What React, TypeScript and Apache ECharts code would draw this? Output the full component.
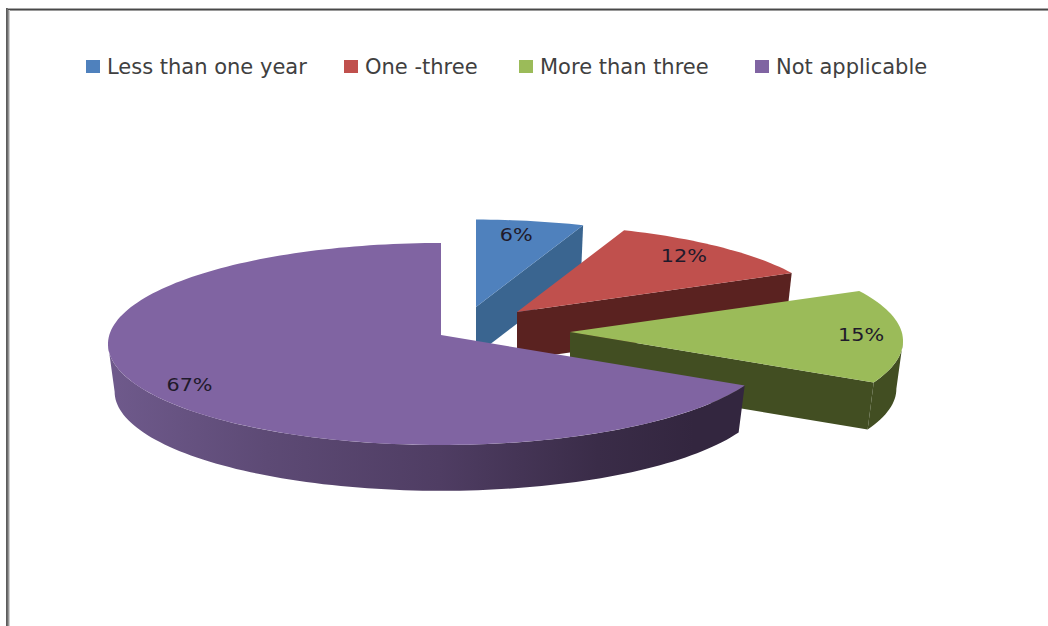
import React, { useEffect, useRef } from "react";
import * as echarts from "echarts";

const categories = ["Less than one year", "One -three", "More than three", "Not applicable"];
const shares = [6, 12, 15, 67];
const shareLabels = ["6%", "12%", "15%", "67%"];

const topColors = ["#4f81bd", "#c0504d", "#9bbb59", "#8064a2"];
const cutColors = ["#3a6590", "#5a2220", "#424e22", "#33263f"];

// Exploded wedge placement: apex of the top face, and its scale on the plane.
const apexX = [476, 517, 570, 441];
const apexY = [307, 312, 332, 335];
const wedgeScale = [0.95, 0.95, 1, 1];
const labelReach = [0.8, 0.84, 0.87, 0.86];
const labelNudgeX = [-4, -5, 2, 4];
const labelNudgeY = [-2, -1, 0, 4];

const legendLeft = [86, 344, 519, 755];

const RADIUS_X = 331.7;
const RADIUS_Y = 100.2;
const TILT = 0.0891;
const DEPTH = 48;
const FLOOR_SCALE = 0.98;

// Bearings where the rim's silhouette meets the wall.
const WALL_START = 95;
const WALL_END = 265;

const total = shares.reduce((a, b) => a + b, 0);

// Perspective projection of a plane point, with bearing in degrees clockwise from 12 o'clock.
function project(i: number, deg: number, reach: number, floor: boolean): number[] {
  const r = (deg * Math.PI) / 180;
  const u = Math.sin(r) * reach;
  const v = Math.cos(r) * reach;
  const w = 1 + TILT * v;
  const s = wedgeScale[i] * (floor ? FLOOR_SCALE : 1);
  return [apexX[i] + (RADIUS_X * s * u) / w, apexY[i] + (floor ? DEPTH : 0) - (RADIUS_Y * s * v) / w];
}

function arc(i: number, from: number, to: number, floor: boolean): number[][] {
  const steps = Math.max(2, Math.ceil(Math.abs(to - from) / 1.5));
  const out: number[][] = [];
  for (let k = 0; k <= steps; k++) out.push(project(i, from + ((to - from) * k) / steps, 1, floor));
  return out;
}

function sliceBounds(i: number): number[] {
  const before = shares.slice(0, i).reduce((a, b) => a + b, 0);
  return [(before / total) * 360, ((before + shares[i]) / total) * 360];
}

function wedge(i: number) {
  const [start, end] = sliceBounds(i);
  const children: any[] = [];
  const apexTop = project(i, 0, 0, false);
  const apexFloor = project(i, 0, 0, true);

  // Cut face along the clockwise edge; only visible when it looks toward the viewer.
  if (end < 180) {
    children.push({
      type: "polygon",
      shape: { points: [apexTop, project(i, end, 1, false), project(i, end, 1, true), apexFloor] },
      style: { fill: cutColors[i] },
    });
  }

  // Outer wall for the front half of the rim.
  const wallFrom = Math.max(start, WALL_START);
  const wallTo = Math.min(end, WALL_END);
  if (wallTo > wallFrom) {
    const fill =
      i === 3
        ? new echarts.graphic.LinearGradient(0, 0, 1, 0, [
            { offset: 0, color: "#6f5a8c" },
            { offset: 0.25, color: "#5d4a75" },
            { offset: 0.52, color: "#4f3d63" },
            { offset: 0.77, color: "#3a2c48" },
            { offset: 0.92, color: "#33263f" },
            { offset: 1, color: "#33263f" },
          ])
        : cutColors[i];
    children.push({
      type: "polygon",
      shape: {
        points: [...arc(i, wallFrom, wallTo, false), ...arc(i, wallTo, wallFrom, true)],
      },
      style: { fill },
    });
  }

  children.push({
    type: "polygon",
    shape: { points: [apexTop, ...arc(i, start, end, false)] },
    style: { fill: topColors[i] },
  });

  const at = project(i, (start + end) / 2, labelReach[i], false);
  children.push({
    type: "text",
    x: at[0] + labelNudgeX[i],
    y: at[1] + labelNudgeY[i],
    scaleX: 1.22,
    style: {
      text: shareLabels[i],
      fill: "#1f1a2b",
      font: "17px 'DejaVu Sans'",
      align: "center",
      verticalAlign: "middle",
    },
  });

  return { type: "group", children };
}

// Soft double rule along the top and left of the page.
const frameLines = [
  { x1: 6, y1: 8.5, x2: 1048, y2: 8.5, stroke: "#a8a8a8" },
  { x1: 6, y1: 9.5, x2: 1048, y2: 9.5, stroke: "#484848" },
  { x1: 8, y1: 10.5, x2: 1048, y2: 10.5, stroke: "#9a9a9a" },
  { x1: 6.5, y1: 8, x2: 6.5, y2: 626, stroke: "#5c5c5c" },
  { x1: 7.5, y1: 8, x2: 7.5, y2: 626, stroke: "#6e6e6e" },
  { x1: 8.5, y1: 10, x2: 8.5, y2: 626, stroke: "#969696" },
  { x1: 9.5, y1: 10, x2: 9.5, y2: 626, stroke: "#d0d0d0" },
];

export default function App() {
  const ref = useRef<HTMLDivElement>(null);

  useEffect(() => {
    document.body.style.margin = "0";
    const chart = echarts.init(ref.current!, undefined, { renderer: "svg" });
    chart.setOption({
      animation: false,
      backgroundColor: "#ffffff",
      legend: categories.map((name, i) => ({
        show: true,
        data: [name],
        left: legendLeft[i],
        top: 56,
        icon: "rect",
        itemWidth: 14,
        itemHeight: 13,
        itemGap: 0,
        padding: 0,
        selectedMode: false,
        textStyle: { fontFamily: "DejaVu Sans", fontSize: 21, color: "#404040", padding: [0, 0, 0, 2] },
      })),
      graphic: frameLines.map(({ stroke, ...shape }) => ({
        type: "line",
        shape,
        style: { stroke, lineWidth: 1 },
      })),
      series: categories.map((name, i) => ({
        type: "custom",
        name,
        coordinateSystem: "none",
        silent: true,
        itemStyle: { color: topColors[i] },
        data: [shares[i]],
        renderItem: () => wedge(i),
      })),
    });
    return () => chart.dispose();
  }, []);

  return <div ref={ref} style={{ position: "fixed", left: 0, top: 0, width: 1048, height: 626 }} />;
}
